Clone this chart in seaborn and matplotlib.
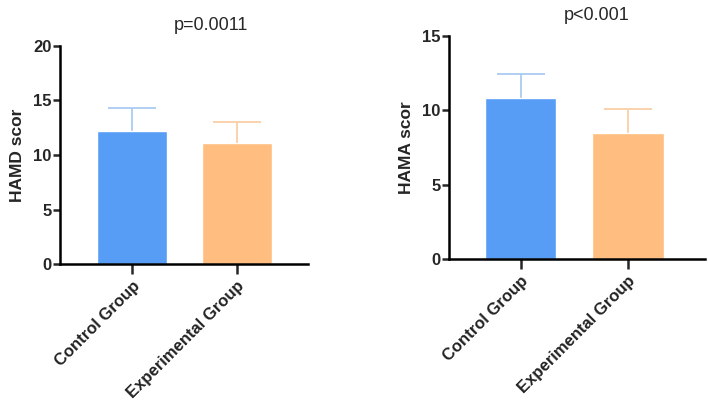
import matplotlib
matplotlib.use("Agg")
import matplotlib.pyplot as plt
import seaborn as sns
import pandas as pd

groups = ["Control Group", "Experimental Group"]
hamd_mean = [12.2, 11.1]
hamd_sd = [2.1, 1.9]
hama_mean = [10.8, 8.45]
hama_sd = [1.6, 1.6]
p_labels = ["p=0.0011", "p<0.001"]
y_labels = ["HAMD scor", "HAMA scor"]

bar_colors = ["#579DF6", "#FFBE80"]
err_colors = ["#A9CBF1", "#F8CFA6"]

sns.set_theme(style="ticks")
plt.rcParams['font.family'] = ['Liberation Sans', 'DejaVu Sans']

fig = plt.figure(figsize=(7.08, 4.05), dpi=100)
ax1 = fig.add_axes([60/708, 1-264/405, (308-60)/708, (264-46)/405])
ax2 = fig.add_axes([449/708, 1-259/405, (705-449)/708, (259-35.7)/405])

panels = [
    (ax1, hamd_mean, hamd_sd, (0, 20), [0, 5, 10, 15, 20], (-0.686, 1.676), y_labels[0]),
    (ax2, hama_mean, hama_sd, (0, 15), [0, 5, 10, 15], (-0.67, 1.72), y_labels[1]),
]

for ax, means, sds, ylim, yt, xlim, ylab in panels:
    df = pd.DataFrame({"group": groups, "value": means})
    sns.barplot(data=df, x="group", y="value", hue="group", palette=bar_colors,
                errorbar=None, width=0.667, legend=False, ax=ax, saturation=1)
    for i, (m, s) in enumerate(zip(means, sds)):
        eb = ax.errorbar(i, m, yerr=[[0], [s]], fmt="none", ecolor=err_colors[i],
                         elinewidth=1.3, capsize=17, capthick=1.3, zorder=0.5)
        caps = eb[1]
        if caps:
            caps[0].set_visible(False)
    ax.set_ylim(*ylim)
    ax.set_yticks(yt)
    ax.set_xlim(*xlim)
    ax.set_xlabel("")
    ax.set_ylabel(ylab, fontsize=12.5, fontweight="bold", labelpad=6)
    for sp in ["top", "right"]:
        ax.spines[sp].set_visible(False)
    for sp in ["left", "bottom"]:
        ax.spines[sp].set_linewidth(1.8)
        ax.spines[sp].set_color("black")
    ax.tick_params(axis="y", length=5, width=1.8, labelsize=12, pad=1)
    ax.tick_params(axis="x", length=7, width=1.8, labelsize=12, pad=3)
    for lab in ax.get_yticklabels():
        lab.set_fontweight("bold")
    ax.set_xticks(range(len(groups)))
    ax.set_xticklabels(groups, rotation=45, ha="right", rotation_mode="anchor",
                       fontweight="bold", color="#222222")

fig.text(211/708, 1-25/405, p_labels[0], ha="center", va="center", fontsize=13)
fig.text(597/708, 1-15/405, p_labels[1], ha="center", va="center", fontsize=13)

fig.savefig("out.png", dpi=100)
